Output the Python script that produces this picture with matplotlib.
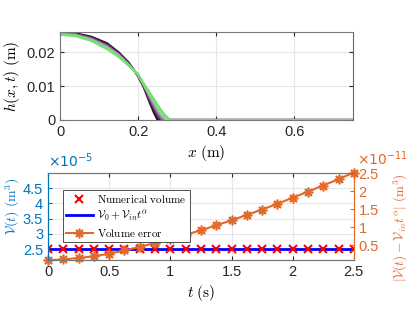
import numpy as np
import matplotlib
matplotlib.use('Agg')
import matplotlib.pyplot as plt
from matplotlib.colors import LinearSegmentedColormap
from matplotlib.ticker import FuncFormatter, FormatStrFormatter
from matplotlib.lines import Line2D

plt.rcParams['font.family'] = ['Liberation Sans', 'DejaVu Sans']
plt.rcParams['mathtext.fontset'] = 'cm'

# height profiles h(x,t), earliest (dark) to latest (green)
x_prof = [0, 0.04, 0.08, 0.12, 0.15, 0.175, 0.2, 0.215, 0.23, 0.24, 0.25, 0.26, 0.27, 0.28, 0.29, 0.75]
h_prof = [
    [0.0257, 0.0255, 0.0245, 0.0226, 0.0199, 0.0170, 0.0129, 0.0095, 0.0051, 0.0023, 0, 0, 0, 0, 0, 0],
    [0.0256, 0.0253, 0.0243, 0.0223, 0.0196, 0.0168, 0.0130, 0.0097, 0.0057, 0.0032, 0.0010, 0, 0, 0, 0, 0],
    [0.0255, 0.0252, 0.0240, 0.0219, 0.0194, 0.0166, 0.0131, 0.0100, 0.0063, 0.0041, 0.0019, 0.0003, 0, 0, 0, 0],
    [0.0254, 0.0250, 0.0238, 0.0216, 0.0191, 0.0164, 0.0132, 0.0102, 0.0069, 0.0048, 0.0027, 0.0010, 0, 0, 0, 0],
    [0.0252, 0.0249, 0.0235, 0.0212, 0.0189, 0.0162, 0.0133, 0.0104, 0.0074, 0.0055, 0.0035, 0.0018, 0.0005, 0, 0, 0],
    [0.0251, 0.0247, 0.0233, 0.0209, 0.0186, 0.0161, 0.0134, 0.0106, 0.0080, 0.0062, 0.0044, 0.0027, 0.0013, 0.0002, 0, 0],
]

# volume check
t = [0, 0.125, 0.25, 0.375, 0.5, 0.625, 0.75, 0.875, 1.0, 1.125, 1.25,
     1.375, 1.5, 1.625, 1.75, 1.875, 2.0, 2.125, 2.25, 2.375, 2.5]
vol_num = [2.5e-5] * 21
vol_exact = [2.5e-5] * 21
vol_err = [0.08, 0.10, 0.14, 0.19, 0.26, 0.35, 0.45, 0.56, 0.67, 0.79, 0.91,
           1.05, 1.19, 1.34, 1.49, 1.65, 1.82, 1.99, 2.16, 2.34, 2.52]
vol_err = [e * 1e-11 for e in vol_err]

blue_ax = '#0072BD'
orange = '#E2692A'
dgray = '#262626'

fig = plt.figure(figsize=(4.15, 3.12), dpi=100)

# ---- top: profiles
ax1 = fig.add_axes([0.1446, 0.6154, 0.706, 0.282])
cmap = LinearSegmentedColormap.from_list('pg', ['#1c0822', '#6a2a78', '#a57cae', '#9ed49a', '#6be46b'])
n = len(h_prof)
for i, h in enumerate(h_prof):
    ax1.plot(x_prof, h, color=cmap(i / (n - 1)), lw=1.6, solid_capstyle='butt')
ax1.set_xlim(0, 0.75)
ax1.set_ylim(0, 0.0259)
ax1.set_xticks([0, 0.2, 0.4, 0.6])
ax1.set_yticks([0, 0.01, 0.02])
ax1.xaxis.set_major_formatter(FormatStrFormatter('%g'))
ax1.yaxis.set_major_formatter(FormatStrFormatter('%g'))
ax1.grid(True, color='#e6e6e6', lw=0.8)
ax1.set_axisbelow(True)
ax1.tick_params(direction='in', length=3, top=True, right=True, labelsize=10.5, colors=dgray)
for s in ax1.spines.values():
    s.set_color('#777777')
    s.set_linewidth(0.8)
ax1.spines['right'].set_color('#b0406a')
ax1.set_xlabel(r'$x\ (\mathrm{m})$', fontsize=11, labelpad=3)
ax1.set_ylabel(r'$h(x,t)\ (\mathrm{m})$', fontsize=11, labelpad=3)

# ---- bottom: volume
ax = fig.add_axes([0.1157, 0.1667, 0.737, 0.279])
ax2 = ax.twinx()
ax.plot(t, vol_num, 'x', color='red', ms=6, mew=1.5, zorder=3)
ax.plot(t, vol_exact, '-', color='blue', lw=2, zorder=2)
ax2.plot(t, vol_err, '-', color=orange, lw=1.5, marker=(8, 2, 0), ms=7, mew=1.2, clip_on=False)

ax.set_xlim(0, 2.5)
ax.set_ylim(2.14e-5, 5.0e-5)
ax.set_yticks([2.5e-5, 3e-5, 3.5e-5, 4e-5, 4.5e-5])
ax.yaxis.set_major_formatter(FuncFormatter(lambda v, p: f'{v / 1e-5:g}'))
ax.set_xticks([0, 0.5, 1, 1.5, 2, 2.5])
ax.xaxis.set_major_formatter(FormatStrFormatter('%g'))
ax2.set_ylim(0.085e-11, 2.51e-11)
ax2.set_yticks([0.5e-11, 1e-11, 1.5e-11, 2e-11, 2.5e-11])
ax2.yaxis.set_major_formatter(FuncFormatter(lambda v, p: f'{v / 1e-11:g}'))

ax.grid(True, color='#e6e6e6', lw=0.8)
ax.set_axisbelow(True)
ax.tick_params(axis='x', direction='in', length=3, top=True, labelsize=10.5, colors=dgray)
ax.tick_params(axis='y', direction='in', length=3, labelsize=10.5, colors=blue_ax)
ax2.tick_params(axis='y', direction='in', length=3, labelsize=10.5, colors=orange)
for a in (ax, ax2):
    a.spines['top'].set_color('#777777')
    a.spines['bottom'].set_color('#777777')
    a.spines['left'].set_color(blue_ax)
    a.spines['right'].set_color(orange)
    for s in a.spines.values():
        s.set_linewidth(0.8)

ax.set_xlabel(r'$t\ (\mathrm{s})$', fontsize=11, labelpad=3)
ax.set_ylabel(r'$\mathcal{V}(t)\ (\mathrm{m}^3)$', fontsize=10, color=blue_ax)
ax.yaxis.set_label_coords(-0.085, 0.62)
ax2.set_ylabel(r'$|\mathcal{V}(t)-\mathcal{V}_{in}t^{\alpha}|\ (\mathrm{m}^3)$', fontsize=9.5, color=orange)
ax2.yaxis.set_label_coords(1.125, 0.37)

ax.text(0, 1.03, r'$\times10^{-5}$', transform=ax.transAxes, color=blue_ax, fontsize=10,
        ha='left', va='bottom', math_fontfamily='dejavusans')
ax2.text(1.01, 1.06, r'$\times10^{-11}$', transform=ax2.transAxes, color=orange, fontsize=10,
         ha='left', va='bottom', math_fontfamily='dejavusans')

handles = [
    Line2D([], [], ls='none', marker='x', color='red', ms=6, mew=1.5),
    Line2D([], [], color='blue', lw=2),
    Line2D([], [], color=orange, lw=1.5, marker=(8, 2, 0), ms=7, mew=1.2),
]
labels = [r'$\mathrm{Numerical\ volume}$', r'$\mathcal{V}_0+\mathcal{V}_{in}t^{\alpha}$', r'$\mathrm{Volume\ error}$']
leg = ax2.legend(handles, labels, loc='upper left', bbox_to_anchor=(0.048, 0.805), fontsize=8,
                 fancybox=False, framealpha=1, edgecolor='#333333', handlelength=2.4,
                 borderpad=0.3, labelspacing=0.3, handletextpad=0.4, borderaxespad=0)
leg.get_frame().set_linewidth(0.6)

fig.savefig('out.png', dpi=100)
